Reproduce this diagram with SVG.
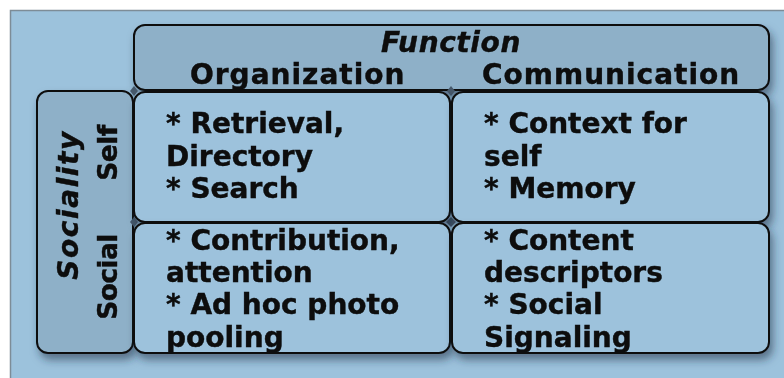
<svg xmlns="http://www.w3.org/2000/svg" width="784" height="378" viewBox="0 0 784 378">
<defs>
<filter id="sh" x="-10%" y="-10%" width="125%" height="130%">
<feDropShadow dx="3" dy="6" stdDeviation="4" flood-color="#1b3344" flood-opacity="0.55"/>
</filter>
<style>
.hdr{fill:#8eb0c8;stroke:#111;stroke-width:2}
.cell{fill:#9dc2dc;stroke:#111;stroke-width:2}
.t{font-family:"DejaVu Sans","Liberation Sans",sans-serif;font-weight:bold;font-size:28px;fill:#0a0a0a;stroke:#0a0a0a;stroke-width:0.4}
.h{letter-spacing:1px}
.it{font-style:italic}
.v{font-size:26.5px;letter-spacing:-0.6px}
.j{fill:#46586a}
</style>
</defs>
<rect x="0" y="0" width="784" height="378" fill="#ffffff"/>
<rect x="10.5" y="10.5" width="790" height="380" fill="#9cc2dc" stroke="#7d8c97" stroke-width="1.5"/>
<g id="function-header" filter="url(#sh)">
<rect class="hdr" x="134" y="25" width="635" height="65" rx="11"/>
<text class="t it" x="451" y="52" text-anchor="middle" style="letter-spacing:0.6px">Function</text>
<text class="t h" x="190" y="84">Organization</text>
<text class="t h" x="482" y="84">Communication</text>
</g>
<g id="sociality-header" filter="url(#sh)">
<rect class="hdr" x="37" y="91" width="96" height="262" rx="11"/>
<text class="t it" transform="translate(78,205) rotate(-90)" text-anchor="middle" style="letter-spacing:1.6px">Sociality</text>
<text class="t v" transform="translate(117,153) rotate(-90)" text-anchor="middle">Self</text>
<text class="t v" transform="translate(117,277) rotate(-90)" text-anchor="middle">Social</text>
</g>
<g id="connectors">
<path class="j" d="M134 86 L138 91 L134 96 L130 91 Z"/>
<path class="j" d="M451 86 L455 91 L451 96 L447 91 Z"/>
<path class="j" d="M451 217 L456 222 L451 227 L446 222 Z"/>
<path class="j" d="M134 217 L138 222 L134 227 L130 222 Z"/>
</g>
<g id="org-self" filter="url(#sh)">
<rect class="cell" x="134" y="92" width="316" height="130" rx="11"/>
<text class="t" x="166" y="133">* Retrieval,</text>
<text class="t" x="166" y="166">Directory</text>
<text class="t" x="166" y="198">* Search</text>
</g>
<g id="comm-self" filter="url(#sh)">
<rect class="cell" x="452" y="92" width="317" height="130" rx="11"/>
<text class="t" x="484" y="133">* Context for</text>
<text class="t" x="484" y="166">self</text>
<text class="t" x="484" y="198">* Memory</text>
</g>
<g id="org-social" filter="url(#sh)">
<rect class="cell" x="134" y="223" width="316" height="130" rx="11"/>
<text class="t" x="166" y="250">* Contribution,</text>
<text class="t" x="166" y="282">attention</text>
<text class="t" x="166" y="314">* Ad hoc photo</text>
<text class="t" x="166" y="347">pooling</text>
</g>
<g id="comm-social" filter="url(#sh)">
<rect class="cell" x="452" y="223" width="317" height="130" rx="11"/>
<text class="t" x="484" y="250">* Content</text>
<text class="t" x="484" y="282">descriptors</text>
<text class="t" x="484" y="314">* Social</text>
<text class="t" x="484" y="347">Signaling</text>
</g>
</svg>
